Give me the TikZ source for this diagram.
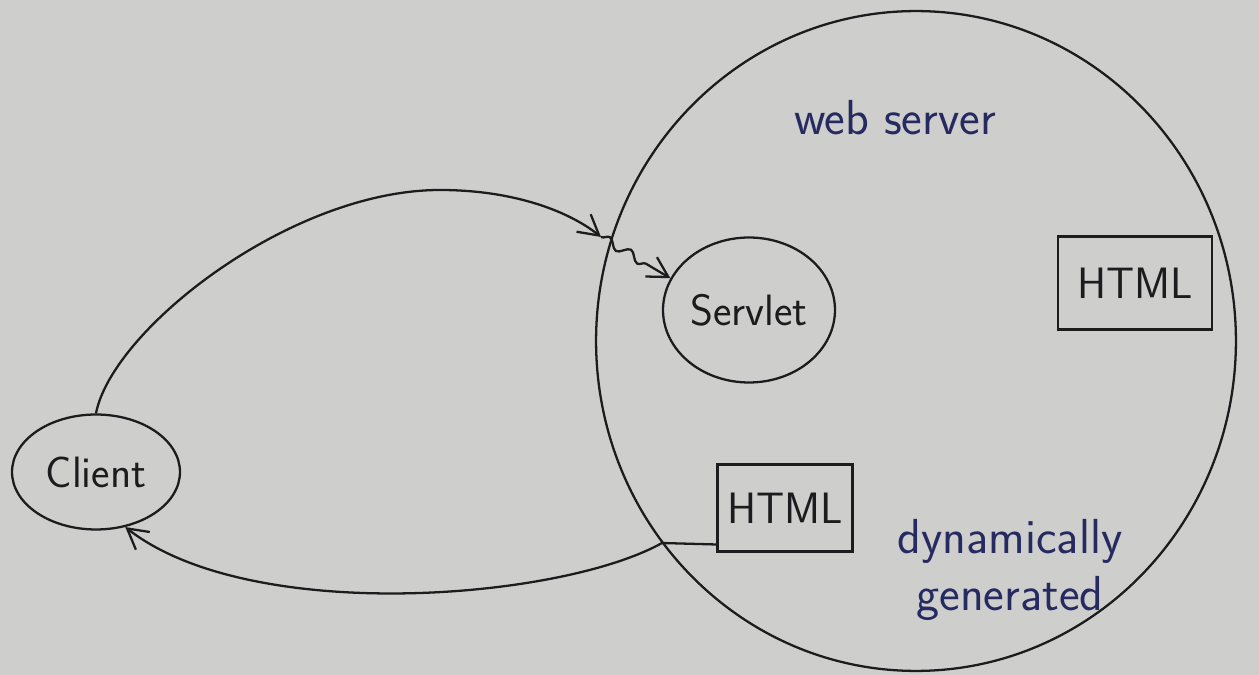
\documentclass[tikz,border=0pt]{standalone}
\usepackage{amsmath}
\usepackage{tikz}
\usetikzlibrary{
    arrows.meta,
    calc,
    shapes.geometric,
    decorations.pathmorphing
}
\definecolor{paper}{RGB}{206,207,205}
\definecolor{ink}{RGB}{28,28,30}
\definecolor{blueink}{RGB}{38,42,96}

\begin{document}
\begin{tikzpicture}[x=0.02cm,y=-0.02cm,line width=1.3pt,draw=ink,
    >={Straight Barb[length=4mm,width=4.5mm]},
    hand/.style={font=\sffamily\fontsize{25}{32}\selectfont,text=ink},
    pen/.style={font=\sffamily\fontsize{28}{32}\selectfont,text=blueink},
    blob/.style={draw,ellipse,inner sep=0pt},
    page/.style={draw,rectangle,inner sep=0pt}]
\fill[paper] (0,0) rectangle (1259,675);
\useasboundingbox (0,0) rectangle (1259,675);

\node[blob,minimum width=12.8cm,minimum height=13.2cm] (server) at (916,341) {};
\node[pen] (title) at (895,118) {web server};

\node[blob,minimum width=3.44cm,minimum height=2.9cm] (servlet) at (749,310) {};
\node[hand] at (servlet) {Servlet};

\node[page,minimum width=3.08cm,minimum height=1.86cm,hand] (html1) at (1135,283) {HTML};
\node[page,minimum width=2.7cm,minimum height=1.74cm,hand] (html2) at (785,508) {HTML};

\node[pen,align=center] (dyn) at (1010,570) {dynamically\\generated};

\node[blob,minimum width=3.36cm,minimum height=2.3cm,hand] (client) at (96,472) {Client};

\coordinate (entry) at (601,237);
\coordinate (exit) at (662,543);

\draw[->] (client.north) .. controls (112,330) and (290,190) .. (440,190)
    .. controls (515,190) and (570,212) .. (entry);
\draw[->,decorate,decoration={snake,amplitude=2.5pt,segment length=14pt,post length=5mm}]
    (entry) -- (servlet.158);

\draw (html2.208) -- (exit);
\draw[->] (exit) .. controls (560,600) and (250,625) .. (client.-62);
\end{tikzpicture}
\end{document}
